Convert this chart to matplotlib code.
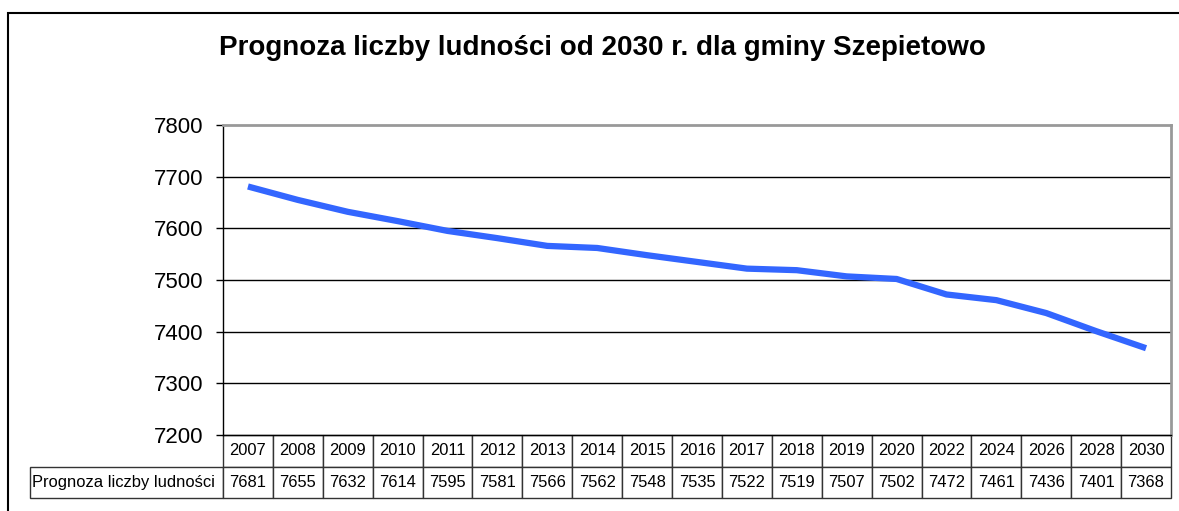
import matplotlib
matplotlib.use("Agg")
import matplotlib.pyplot as plt
from matplotlib.table import Table
from matplotlib.patches import Rectangle

years = ["2007", "2008", "2009", "2010", "2011", "2012", "2013", "2014", "2015", "2016",
         "2017", "2018", "2019", "2020", "2022", "2024", "2026", "2028", "2030"]
values = [7681, 7655, 7632, 7614, 7595, 7581, 7566, 7562, 7548, 7535,
          7522, 7519, 7507, 7502, 7472, 7461, 7436, 7401, 7368]
series_name = "Prognoza liczby ludności"
title = "Prognoza liczby ludności od 2030 r. dla gminy Szepietowo"
yticks = [7200, 7300, 7400, 7500, 7600, 7700, 7800]

plt.rcParams['font.family'] = ['Liberation Sans', 'DejaVu Sans']

W, H = 1179, 511
fig = plt.figure(figsize=(W / 100, H / 100), dpi=100)

# outer chart border
fig.add_artist(Rectangle((8 / W, -0.01), 1.2, 1 - 13 / H + 0.01, transform=fig.transFigure,
                         fill=False, edgecolor='black', linewidth=1.5))

x0, x1 = 223, 1171
y_top, y_bot = 125, 435
ax = fig.add_axes([x0 / W, 1 - y_bot / H, (x1 - x0) / W, (y_bot - y_top) / H])

n = len(years)
xs = [i + 0.5 for i in range(n)]
ax.plot(xs, values, color='#3366FF', linewidth=4.5, solid_capstyle='butt', zorder=3)
ax.set_xlim(0, n)
ax.set_ylim(7200, 7800)
ax.set_yticks(yticks)
ax.set_yticklabels([str(t) for t in yticks], fontsize=16)
ax.set_xticks([])
for t in yticks[1:-1]:
    ax.axhline(t, color='black', linewidth=1.0, zorder=1)
ax.tick_params(axis='y', direction='out', length=5, width=1, pad=9, colors='black')
ax.spines['left'].set_color('black')
ax.spines['left'].set_linewidth(1.0)
for s in ['top', 'right']:
    ax.spines[s].set_color('#999999')
    ax.spines[s].set_linewidth(2.0)
ax.spines['bottom'].set_color('black')
ax.spines['bottom'].set_linewidth(1.0)

fig.text(602 / W, 1 - 48 / H, title, ha='center', va='center', fontsize=20, fontweight='bold')

# data table below plot
axw = x1 - x0
axh = y_bot - y_top
label_left = 30
tbl_h = 63
bbox = [(label_left - x0) / axw, -tbl_h / axh, (x1 - label_left) / axw, tbl_h / axh]
tb = Table(ax, bbox=bbox)
tb.auto_set_font_size(False)
lw_label = x0 - label_left
colw = axw / n
rh = 1.0
fs = 11.9
for j, y in enumerate(years):
    c = tb.add_cell(0, j + 1, width=colw, height=rh, text=y, loc='center')
    c.get_text().set_fontsize(fs)
    c.set_edgecolor('#333333')
    c.set_linewidth(1.0)
lc = tb.add_cell(1, 0, width=lw_label, height=rh, text=series_name, loc='left')
lc.get_text().set_fontsize(fs)
lc.PAD = 0.01
lc.set_edgecolor('#333333')
for j, v in enumerate(values):
    c = tb.add_cell(1, j + 1, width=colw, height=rh, text=str(v), loc='center')
    c.get_text().set_fontsize(fs)
    c.set_edgecolor('#333333')
ax.add_table(tb)

fig.savefig("out.png", dpi=100)
